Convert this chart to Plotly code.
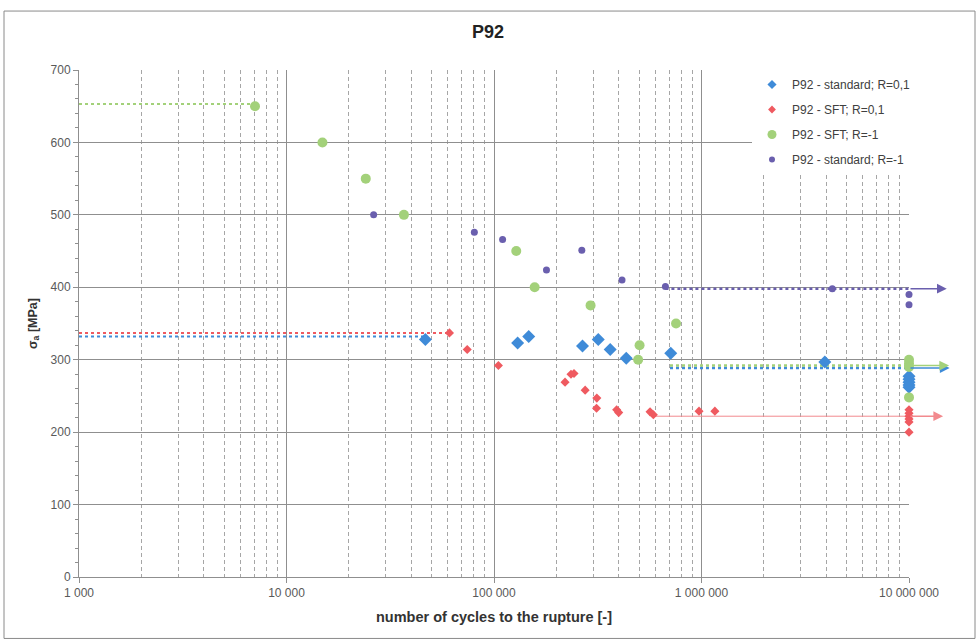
import numpy as np
import plotly.graph_objects as go

# ---------------- data ----------------
series_names = ["P92 - standard; R=0,1", "P92 - SFT; R=0,1", "P92 - SFT; R=-1", "P92 - standard; R=-1"]

std_r01_N = [46700, 130000, 147000, 267000, 318000, 363000, 434000, 711000, 3930000,
             1e7, 1e7, 1e7, 1e7, 1e7]
std_r01_S = [328, 323, 332, 319, 328, 314, 302, 309, 297, 277, 273, 269, 265, 262]

sft_r01_N = [61000, 74300, 105000, 220000, 235000, 243000, 275000, 313000, 312000, 390000,
             399000, 565000, 586000, 973000, 1160000, 1e7, 1e7, 1e7, 1e7, 1e7, 1e7]
sft_r01_S = [337, 314, 292, 269, 280, 281, 258, 247, 233, 231, 227, 228, 224, 229, 229,
             231, 226, 222, 218, 214, 200]

sft_rm1_N = [7050, 14900, 24100, 36800, 128000, 157000, 292000, 495000, 503000, 754000,
             1e7, 1e7, 1e7, 1e7]
sft_rm1_S = [650, 600, 550, 500, 450, 400, 375, 300, 320, 350, 300, 295, 290, 248]

std_rm1_N = [26300, 80400, 110000, 179000, 265000, 414000, 670000, 4270000, 1e7, 1e7]
std_rm1_S = [500, 476, 466, 424, 451, 410, 401, 398, 390, 376]

# horizontal limit lines at the low-cycle side: [start N, end N], level
left_line_N = {"blue": [1000, 46700], "red": [1000, 61000], "green": [1000, 7050]}
left_line_S = {"blue": 332, "red": 337, "green": 653}

# run-out lines: [start N, end N] inside the plot, arrow tip N, level
runout_N = {"purple": [670000, 1e7], "green": [705000, 1e7], "blue": [705000, 1e7], "red": [586000, 1e7]}
runout_tip_N = {"purple": 1.52e7, "green": 1.56e7, "blue": 1.57e7, "red": 1.46e7}
runout_S = {"purple": 398, "green": 292, "blue": 288.5, "red": 222}

x_tick_vals = [1e3, 1e4, 1e5, 1e6, 1e7]
x_tick_text = ["1 000", "10 000", "100 000", "1 000 000", "10 000 000"]

# ---------------- style ----------------
C = {"blue": "#3f8bd8", "red": "#ef5a60", "green": "#a3d17a", "purple": "#6a5fae"}
FONT = "'Liberation Sans Narrow', 'Liberation Sans', Arial, sans-serif"
GRID = "#8f8f8f"

fig = go.Figure()

# left dotted lines
for key in ["red", "blue", "green"]:
    fig.add_trace(go.Scatter(x=left_line_N[key], y=[left_line_S[key]] * 2, mode="lines",
                             line=dict(color=C[key], width=2, dash="dot"),
                             showlegend=False, hoverinfo="skip"))

# run-out lines
for key in ["purple", "blue", "green", "red"]:
    if key == "red":
        ln = dict(color="#f28a8e", width=1)
    else:
        ln = dict(color=C[key], width=2.5, dash="dot")
    fig.add_trace(go.Scatter(x=runout_N[key], y=[runout_S[key]] * 2, mode="lines",
                             line=ln, showlegend=False, hoverinfo="skip"))

# data series
specs = [
    (std_r01_N, std_r01_S, "blue", "diamond", 10, 7),
    (sft_r01_N, sft_r01_S, "red", "diamond", 7, 6),
    (sft_rm1_N, sft_rm1_S, "green", "circle", 10, 9),
    (std_rm1_N, std_rm1_S, "purple", "circle", 7, 6),
]
for name, (xs, ys, key, sym, sz, lsz) in zip(series_names, specs):
    fig.add_trace(go.Scatter(x=xs, y=ys, mode="markers", name=name, legendgroup=name,
                             marker=dict(color=C[key], symbol=sym, size=sz),
                             cliponaxis=False, showlegend=False))
    # legend entry with the smaller legend symbol
    fig.add_trace(go.Scatter(x=[None], y=[None], mode="markers", name=name, legendgroup=name,
                             marker=dict(color=C[key], symbol=sym, size=lsz),
                             showlegend=True))

# arrows beyond the 10^7 limit
for key in ["purple", "blue", "green", "red"]:
    col = "#f28a8e" if key == "red" else C[key]
    fig.add_annotation(x=np.log10(runout_tip_N[key]), y=runout_S[key],
                       ax=np.log10(runout_N[key][1]), ay=runout_S[key],
                       xref="x", yref="y", axref="x", ayref="y", text="",
                       showarrow=True, arrowhead=2, arrowsize=1.3, arrowwidth=1.5,
                       arrowcolor=col, standoff=0, startstandoff=0)

W, H = 976, 641
L, R, T, B = 79, 909, 70, 577.5
pw, ph = R - L, B - T

# outer border
fig.add_shape(type="rect", xref="paper", yref="paper",
              x0=(4 - L) / pw, x1=(975 - L) / pw,
              y0=(B - 639) / ph, y1=(B - 11) / ph,
              line=dict(color="#8a8a8a", width=1), layer="below")

fig.update_layout(
    width=W, height=H,
    margin=dict(l=L, r=W - R, t=T, b=H - B),
    paper_bgcolor="white", plot_bgcolor="white",
    font=dict(family=FONT, color="#595959", size=11),
    title=dict(text="<b>P92</b>", x=0.5, xanchor="center", y=1 - 32 / H, yanchor="middle",
               font=dict(size=18, color="#222222", family=FONT)),
    showlegend=True,
    legend=dict(x=(752 - L) / pw, xanchor="left", y=1, yanchor="top",
                bgcolor="white", font=dict(size=12, color="#404040", family=FONT),
                tracegroupgap=6, itemsizing="trace"),
    xaxis=dict(type="log", range=[3, 7], tickvals=x_tick_vals, ticktext=x_tick_text,
               showgrid=True, gridcolor=GRID, gridwidth=1,
               ticks="outside", ticklen=5, tickcolor=GRID,
               showline=True, linecolor=GRID, linewidth=1, zeroline=False,
               tickfont=dict(size=12, color="#595959"),
               minor=dict(tickvals=[m * 10 ** d for d in range(3, 7) for m in range(2, 10)],
                          showgrid=True, gridcolor="#a6a6a6", griddash="4px,3px", gridwidth=1),
               title=dict(text="<b>number of cycles to the rupture [-]</b>",
                          font=dict(size=14.5, color="#333333"), standoff=12)),
    yaxis=dict(range=[0, 700], dtick=100, showgrid=True, gridcolor=GRID, gridwidth=1,
               ticks="outside", ticklen=5, tickcolor=GRID,
               showline=True, linecolor=GRID, linewidth=1, zeroline=False,
               tickfont=dict(size=12, color="#595959"),
               minor=dict(dtick=20, ticks="outside", ticklen=3, tickcolor=GRID, showgrid=False),
               title=dict(text="<b>σ<sub>a</sub> [MPa]</b>",
                          font=dict(size=12.5, color="#333333"), standoff=10)),
)

fig.write_html("out.html", config={"displayModeBar": False},
               post_script="document.body.style.margin='0';")
